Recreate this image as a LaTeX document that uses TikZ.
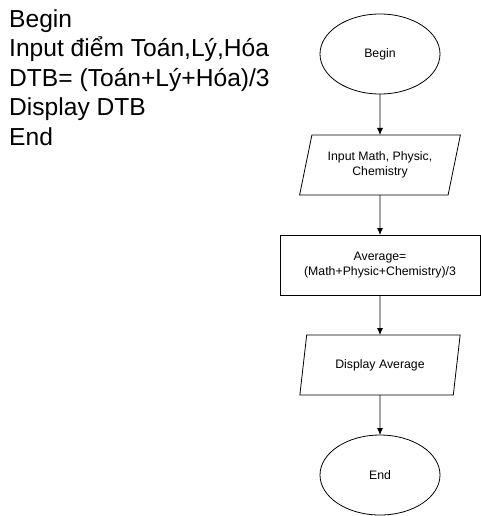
\documentclass[tikz,border=0pt]{standalone}
\usepackage{fontspec}
\setmainfont{Liberation Sans}
\usetikzlibrary{shapes.geometric, arrows.meta, positioning}

\begin{document}
\begin{tikzpicture}[
    x=1pt, y=-1pt,
    node distance=40pt,
    terminal/.style={
        ellipse,
        draw,
        line width=0.8pt,
        minimum width=120pt,
        minimum height=80pt,
        inner sep=0pt,
        outer sep=0pt,
        font=\fontsize{12.3}{14.5}\selectfont
    },
    io/.style={
        terminal,
        trapezium,
        trapezium left angle=70,
        trapezium right angle=110,
        trapezium stretches=true,
        minimum width=161pt,
        minimum height=60pt,
        align=center
    },
    process/.style={
        terminal,
        rectangle,
        minimum width=200pt,
        minimum height=60pt,
        align=center
    },
    flow/.style={
        -{Latex[length=7pt, width=6pt]},
        line width=0.8pt
    },
    pseudo/.style={
        anchor=north west,
        align=left,
        inner sep=0pt,
        font=\fontsize{24.6}{29.6}\selectfont
    }
]
    \useasboundingbox (0,0) rectangle (481,516);

    % PSEUDOCODE (Left Side)
    \node[pseudo] (steps) at (9,9) {Begin\\Input điểm Toán,Lý,Hóa\\DTB= (Toán+Lý+Hóa)/3\\Display DTB\\End};

    % FLOWCHART (Right Side)
    \node[terminal] (begin) at (380,54) {Begin};
    \node[io] (input) [below=41pt of begin] {Input Math, Physic,\\Chemistry};
    \node[process] (average) [below=of input] {Average=\\(Math+Physic+Chemistry)/3};
    \node[io] (display) [below=of average] {Display Average};
    \node[terminal] (end) [below=of display] {End};

    % LINKS
    \draw[flow] (begin) -- (input);
    \draw[flow] (input) -- (average);
    \draw[flow] (average) -- (display);
    \draw[flow] (display) -- (end);

\end{tikzpicture}
\end{document}
